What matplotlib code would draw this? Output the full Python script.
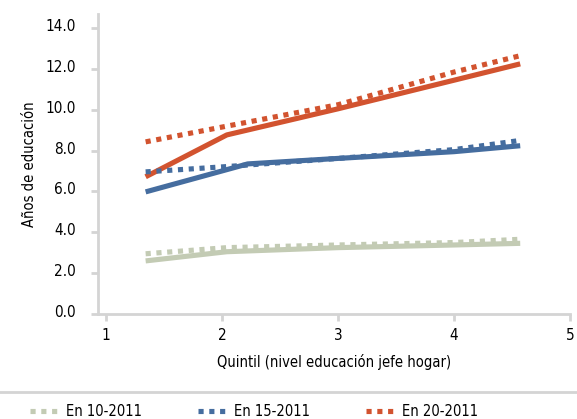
import matplotlib
matplotlib.use("Agg")
import matplotlib.pyplot as plt
from matplotlib.lines import Line2D
from matplotlib.transforms import ScaledTranslation

plt.rcParams['font.family'] = ['DejaVu Sans']
plt.rcParams['font.stretch'] = 'condensed'

# datos
x_10 = [1.34, 2.04, 3.0, 4.0, 4.57]
edu_10 = [2.6, 3.05, 3.25, 3.38, 3.46]
x_10p = [1.34, 2.04, 3.0, 4.0, 4.57]
edu_10p = [2.95, 3.25, 3.38, 3.5, 3.66]

x_15 = [1.34, 2.22, 3.0, 4.0, 4.57]
edu_15 = [5.98, 7.35, 7.62, 7.95, 8.24]
x_15p = [1.34, 2.04, 3.0, 4.0, 4.57]
edu_15p = [6.96, 7.22, 7.62, 8.05, 8.5]

x_20 = [1.34, 2.04, 3.0, 4.0, 4.57]
edu_20 = [6.72, 8.77, 10.05, 11.45, 12.25]
x_20p = [1.34, 2.04, 3.0, 4.0, 4.57]
edu_20p = [8.43, 9.2, 10.25, 11.85, 12.65]

etiquetas = ["En 10-2011", "En 15-2011", "En 20-2011"]
verde = "#c3cbb4"
azul = "#456d9f"
rojo = "#d2532f"
gris = "#d4d4d4"

fig = plt.figure(figsize=(5.77, 4.19), dpi=100)
ax = fig.add_axes([0.170, 0.2506, 0.818, 0.7164])

lw = 3.7
ax.plot(x_10, edu_10, color=verde, lw=lw, solid_capstyle='butt')
ax.plot(x_15, edu_15, color=azul, lw=lw, solid_capstyle='butt')
ax.plot(x_20, edu_20, color=rojo, lw=lw, solid_capstyle='butt')
l1, = ax.plot(x_10p, edu_10p, color=verde, lw=lw, dashes=(1, 1.1), dash_capstyle='butt')
l2, = ax.plot(x_15p, edu_15p, color=azul, lw=lw, dashes=(1, 1.1), dash_capstyle='butt')
l3, = ax.plot(x_20p, edu_20p, color=rojo, lw=lw, dashes=(1, 1.1), dash_capstyle='butt')

ax.set_xlim(0.93, 5.0)
ax.set_ylim(0, 14.7)
ax.set_xticks([1, 2, 3, 4, 5])
ax.set_yticks([0, 2, 4, 6, 8, 10, 12, 14])
ax.set_yticklabels([f"{v:.1f}" for v in range(0, 15, 2)])

for s in ['top', 'right']:
    ax.spines[s].set_visible(False)
for s in ['left', 'bottom']:
    ax.spines[s].set_color(gris)
    ax.spines[s].set_linewidth(2)
ax.tick_params(axis='both', colors=gris, width=2, length=5, labelsize=11, labelcolor='black')
ax.tick_params(axis='x', pad=5)
ax.tick_params(axis='y', pad=11)
subir = ScaledTranslation(0, 0.03, fig.dpi_scale_trans)
for t in ax.get_yticklabels():
    t.set_transform(t.get_transform() + subir)

ax.set_xlabel("Quintil (nivel educación jefe hogar)", fontsize=10.5, labelpad=8)
ax.set_ylabel("Años de educación", fontsize=10.5, labelpad=6)

fig.add_artist(Line2D([0, 1], [0.0644, 0.0644], transform=fig.transFigure, color=gris, lw=2))

fig.legend([l1, l2, l3], etiquetas, loc='center left', bbox_to_anchor=(0.052, 0.0175),
           ncol=3, frameon=False, fontsize=10.5, handlelength=2.1, handletextpad=0.4,
           columnspacing=3.8, borderpad=0, borderaxespad=0)

fig.savefig("out.png", dpi=100)
